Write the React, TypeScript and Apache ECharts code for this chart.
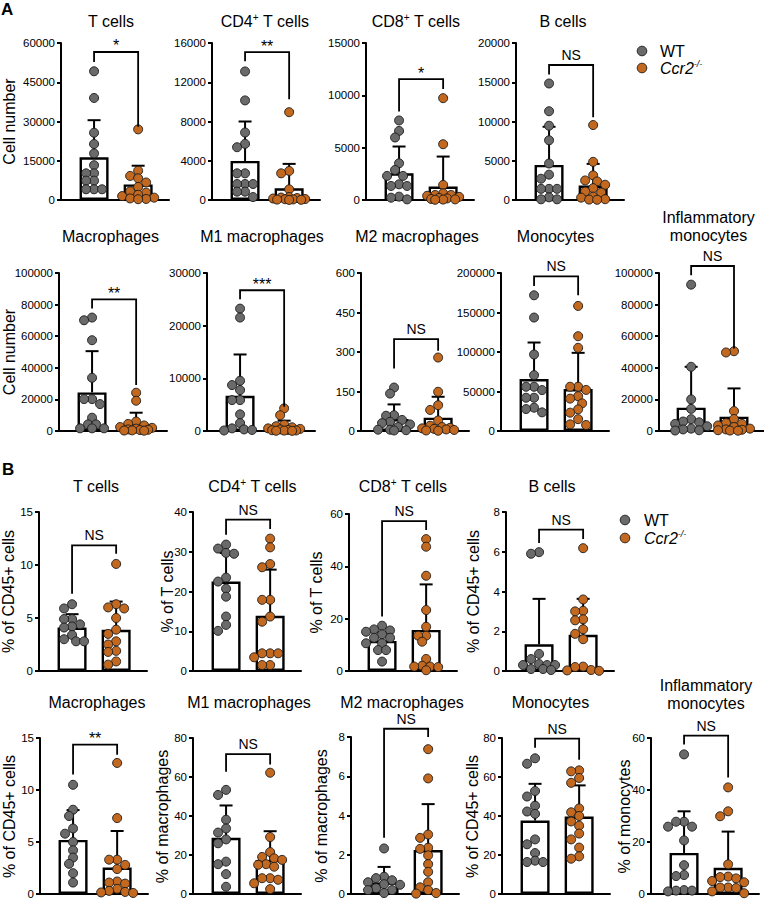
import React, { useEffect, useRef } from "react";
import * as echarts from "echarts";

const FONT = "'Liberation Sans', Arial, Helvetica, sans-serif";
const GROUPS = ["WT", "Ccr2-/-"];
const WT_COLOR = "#6a6a6a";
const KO_COLOR = "#c3681f";

// ---------- A: cell numbers ----------
const A_T_WT = [49200, 39000, 25700, 21400, 17800, 13300, 10200, 10200, 7400, 7400, 4100, 4100, 4100];
const A_T_KO = [27000, 11200, 9200, 8300, 6700, 5000, 3300, 2800, 2000, 1500, 900, 600, 400, 300];
const A_T_MEAN = [16300, 5970];
const A_T_SDTOP = [30500, 13100];
const A_T_SIG: [string, number, number, number] = ["*", 52750, 27970, 56570];
const A_T_AXIS = [60000, 15000];

const A_CD4_WT = [13100, 10150, 6880, 5720, 5380, 2720, 2720, 1630, 1630, 1630, 850, 850, 300];
const A_CD4_KO = [8950, 2960, 2720, 1090, 300, 250, 200, 150, 100, 80, 60, 40, 20, 10];
const A_CD4_MEAN = [3980, 1190];
const A_CD4_SDTOP = [8000, 3680];
const A_CD4_SIG: [string, number, number, number] = ["**", 14130, 10280, 15080];
const A_CD4_AXIS = [16000, 4000];

const A_CD8_WT = [7600, 6600, 5970, 3510, 2870, 2300, 2300, 1500, 1340, 1340, 320, 220, 60];
const A_CD8_KO = [9730, 5330, 1440, 640, 480, 480, 400, 300, 200, 150, 100, 60, 40, 20];
const A_CD8_MEAN = [2550, 1280];
const A_CD8_SDTOP = [5110, 4150];
const A_CD8_SIG: [string, number, number, number] = ["*", 8460, 10600, 11550];
const A_CD8_AXIS = [15000, 5000];

const A_B_WT = [14840, 11310, 9460, 7610, 4650, 3230, 2710, 1420, 1420, 1420, 340, 90, 90];
const A_B_KO = [9550, 4860, 3140, 2490, 2370, 1940, 1510, 1080, 950, 430, 300, 100, 50, 30];
const A_B_MEAN = [4470, 1850];
const A_B_SDTOP = [9330, 4600];
const A_B_SIG: [string, number, number, number] = ["NS", 16000, 10540, 17200];
const A_B_AXIS = [20000, 5000];

const A_MAC_WT = [71790, 70100, 57470, 33680, 20210, 20210, 17050, 8420, 4210, 4210, 1680, 1680, 1680];
const A_MAC_KO = [24210, 19160, 6000, 4500, 3500, 2500, 2000, 1500, 1000, 800, 600, 400, 300, 200];
const A_MAC_MEAN = [24420, 4210];
const A_MAC_SDTOP = [50530, 11580];
const A_MAC_SIG: [string, number, number, number] = ["**", 77470, 29050, 83370];
const A_MAC_AXIS = [100000, 20000];

const A_M1_WT = [23240, 21540, 9540, 8720, 7770, 5870, 5870, 3160, 1500, 500, 300, 200, 100];
const A_M1_KO = [4300, 3000, 1200, 900, 700, 500, 400, 300, 200, 150, 100, 80, 50, 30];
const A_M1_MEAN = [6690, 695];
const A_M1_SDTOP = [14530, 1960];
const A_M1_SIG: [string, number, number, number] = ["***", 25010, 4610, 26720];
const A_M1_AXIS = [30000, 10000];

const A_M2_WT = [165, 142, 60, 58, 42, 35, 30, 25, 15, 5, 5, 3, 2];
const A_M2_KO = [279, 149, 98, 80, 40, 20, 15, 12, 10, 8, 6, 4, 2, 1];
const A_M2_MEAN = [45.5, 50.5];
const A_M2_SDTOP = [101, 130];
const A_M2_SIG: [string, number, number, number] = ["NS", 237.5, 304.4, 348.6];
const A_M2_AXIS = [600, 150];

const A_MONO_WT = [171800, 143600, 96840, 70700, 56000, 56000, 51800, 42100, 42100, 29500, 27800, 23600];
const A_MONO_KO = [158300, 120000, 105300, 56000, 56000, 52000, 44000, 41000, 35000, 27400, 23200, 15000, 8400, 7600];
const A_MONO_MEAN = [65680, 53050];
const A_MONO_SDTOP = [112000, 98950];
const A_MONO_SIG: [string, number, number, number] = ["NS", 183600, 171800, 195800];
const A_MONO_AXIS = [200000, 50000];

const A_INFL_WT = [92630, 40630, 20000, 14000, 7500, 6000, 5500, 4500, 3000, 1500, 1000, 500, 300];
const A_INFL_KO = [50500, 49700, 12600, 7600, 5000, 4500, 3500, 2500, 1500, 1000, 800, 500, 300, 200];
const A_INFL_MEAN = [14740, 9050];
const A_INFL_SDTOP = [40630, 26950];
const A_INFL_SIG: [string, number, number, number] = ["NS", 98530, 52210, 104420];
const A_INFL_AXIS = [100000, 20000];

// ---------- B: percentages ----------
const B_T_WT = [6.3, 5.9, 4.9, 4.9, 4.4, 4.2, 4.1, 3.4, 3.0, 2.8, 2.8];
const B_T_KO = [10.1, 6.3, 6.0, 5.9, 5.0, 3.9, 3.5, 2.8, 2.5, 1.9, 1.8, 0.9, 0.6];
const B_T_MEAN = [4.1, 3.88];
const B_T_SDTOP = [5.36, 6.55];
const B_T_SIG: [string, number, number, number] = ["NS", 7.28, 11.06, 11.85];
const B_T_AXIS = [15, 5];

const B_CD4_WT = [31.8, 30.8, 29.7, 29.5, 23.5, 22.5, 20.7, 18.7, 13.7, 11.6, 10.1];
const B_CD4_KO = [33.3, 31.1, 26.9, 26.1, 17.9, 17.9, 13.7, 12.4, 4.45, 4.45, 4.45, 3.45, 1.5, 1.5];
const B_CD4_MEAN = [22.5, 13.9];
const B_CD4_SDTOP = [29.7, 25.5];
const B_CD4_SIG: [string, number, number, number] = ["NS", 34.3, 35.7, 38.1];
const B_CD4_AXIS = [40, 10];

const B_CD8_WT = [17.3, 15.9, 15.5, 15.0, 14.0, 12.7, 12.7, 10.6, 10.6, 8.0, 8.0, 3.6];
const B_CD8_KO = [50.4, 47.5, 36.4, 23.3, 16.9, 13.5, 13.5, 11.2, 4.6, 2.0, 1.7, 1.7, 1.5, 0.3];
const B_CD8_MEAN = [11.5, 15.7];
const B_CD8_SDTOP = [14.8, 33.1];
const B_CD8_SIG: [string, number, number, number] = ["NS", 20.8, 53.9, 57.3];
const B_CD8_AXIS = [60, 20];

const B_B_WT = [5.98, 5.9, 0.86, 0.6, 0.35, 0.3, 0.3, 0.3, 0.1, 0.1, 0.05];
const B_B_KO = [6.18, 3.6, 3.03, 3.0, 2.6, 2.55, 2.1, 1.87, 1.6, 0.22, 0.2, 0.05, 0.03, 0.01];
const B_B_MEAN = [1.34, 1.82];
const B_B_SDTOP = [3.63, 3.63];
const B_B_SIG: [string, number, number, number] = ["NS", 6.44, 6.64, 7.11];
const B_B_AXIS = [8, 2];

const B_MAC_WT = [10.5, 8.1, 7.5, 6.3, 5.8, 5.0, 4.2, 3.5, 2.9, 2.0, 1.1];
const B_MAC_KO = [12.6, 7.3, 3.3, 3.3, 2.8, 2.4, 1.2, 1.1, 1.0, 0.5, 0.3, 0.2, 0.15, 0.1];
const B_MAC_MEAN = [5.2, 2.55];
const B_MAC_SDTOP = [8.07, 6.06];
const B_MAC_SIG: [string, number, number, number] = ["**", 11.49, 13.4, 14.36];
const B_MAC_AXIS = [15, 5];

const B_M1_WT = [53.4, 50.8, 38.1, 33.6, 31.5, 28, 26, 16.6, 15.3, 10.2, 3.7];
const B_M1_KO = [62.2, 29.2, 21.5, 19.0, 18.3, 17.5, 15.3, 15.0, 14.0, 8.1, 8.1, 7.3, 5.5, 2.5];
const B_M1_MEAN = [28.8, 17.5];
const B_M1_SDTOP = [45.4, 32.2];
const B_M1_SIG: [string, number, number, number] = ["NS", 62.7, 66.4, 71.7];
const B_M1_AXIS = [80, 20];

const B_M2_WT = [2.32, 0.88, 0.81, 0.7, 0.6, 0.5, 0.47, 0.3, 0.2, 0.2, 0.05];
const B_M2_KO = [7.38, 5.89, 3.03, 2.86, 2.36, 2.3, 1.97, 1.52, 1.13, 0.6, 0.34, 0.2, 0.05, 0.02];
const B_M2_MEAN = [0.59, 2.24];
const B_M2_SDTOP = [1.38, 4.58];
const B_M2_SIG: [string, number, number, number] = ["NS", 2.86, 8.0, 8.42];
const B_M2_AXIS = [8, 2];

const B_MONO_WT = [69.6, 66.8, 52.8, 50, 45.3, 42.3, 41.1, 28, 25.5, 21, 17.1, 16.4, 16.4];
const B_MONO_KO = [63.4, 62.9, 59.5, 57, 43.9, 41.9, 40, 37.2, 35, 31, 28, 23.8, 19.3, 18.1];
const B_MONO_MEAN = [37.7, 39.7];
const B_MONO_SDTOP = [56.5, 55.7];
const B_MONO_SIG: [string, number, number, number] = ["NS", 75, 68.8, 79.7];
const B_MONO_AXIS = [80, 20];

const B_INFL_WT = [53.7, 27.8, 27.8, 25.9, 25.9, 20.6, 11.1, 7.3, 6.9, 1.5, 1.3, 1.3, 1.0];
const B_INFL_KO = [41, 31.8, 29.9, 11.4, 6.7, 6.5, 6.0, 5.0, 4.5, 2.5, 2.5, 2.3, 1.0, 0.3];
const B_INFL_MEAN = [15.8, 10.1];
const B_INFL_SDTOP = [31.8, 24.0];
const B_INFL_SIG: [string, number, number, number] = ["NS", 57.5, 44.8, 60.9];
const B_INFL_AXIS = [60, 20];

type Panel = {
  title: string;
  yName?: string;
  wt: number[];
  ko: number[];
  mean: number[];
  top: number[];
  sig: [string, number, number, number];
  axis: number[];
};

const PANELS: Panel[] = [
  { title: "T cells", yName: "Cell number", wt: A_T_WT, ko: A_T_KO, mean: A_T_MEAN, top: A_T_SDTOP, sig: A_T_SIG, axis: A_T_AXIS },
  { title: "CD4⁺ T cells", wt: A_CD4_WT, ko: A_CD4_KO, mean: A_CD4_MEAN, top: A_CD4_SDTOP, sig: A_CD4_SIG, axis: A_CD4_AXIS },
  { title: "CD8⁺ T cells", wt: A_CD8_WT, ko: A_CD8_KO, mean: A_CD8_MEAN, top: A_CD8_SDTOP, sig: A_CD8_SIG, axis: A_CD8_AXIS },
  { title: "B cells", wt: A_B_WT, ko: A_B_KO, mean: A_B_MEAN, top: A_B_SDTOP, sig: A_B_SIG, axis: A_B_AXIS },
  { title: "Macrophages", yName: "Cell number", wt: A_MAC_WT, ko: A_MAC_KO, mean: A_MAC_MEAN, top: A_MAC_SDTOP, sig: A_MAC_SIG, axis: A_MAC_AXIS },
  { title: "M1 macrophages", wt: A_M1_WT, ko: A_M1_KO, mean: A_M1_MEAN, top: A_M1_SDTOP, sig: A_M1_SIG, axis: A_M1_AXIS },
  { title: "M2 macrophages", wt: A_M2_WT, ko: A_M2_KO, mean: A_M2_MEAN, top: A_M2_SDTOP, sig: A_M2_SIG, axis: A_M2_AXIS },
  { title: "Monocytes", wt: A_MONO_WT, ko: A_MONO_KO, mean: A_MONO_MEAN, top: A_MONO_SDTOP, sig: A_MONO_SIG, axis: A_MONO_AXIS },
  { title: "Inflammatory\nmonocytes", wt: A_INFL_WT, ko: A_INFL_KO, mean: A_INFL_MEAN, top: A_INFL_SDTOP, sig: A_INFL_SIG, axis: A_INFL_AXIS },
  { title: "T cells", yName: "% of CD45+ cells", wt: B_T_WT, ko: B_T_KO, mean: B_T_MEAN, top: B_T_SDTOP, sig: B_T_SIG, axis: B_T_AXIS },
  { title: "CD4⁺ T cells", yName: "% of T cells", wt: B_CD4_WT, ko: B_CD4_KO, mean: B_CD4_MEAN, top: B_CD4_SDTOP, sig: B_CD4_SIG, axis: B_CD4_AXIS },
  { title: "CD8⁺ T cells", yName: "% of T cells", wt: B_CD8_WT, ko: B_CD8_KO, mean: B_CD8_MEAN, top: B_CD8_SDTOP, sig: B_CD8_SIG, axis: B_CD8_AXIS },
  { title: "B cells", yName: "% of CD45+ cells", wt: B_B_WT, ko: B_B_KO, mean: B_B_MEAN, top: B_B_SDTOP, sig: B_B_SIG, axis: B_B_AXIS },
  { title: "Macrophages", yName: "% of CD45+ cells", wt: B_MAC_WT, ko: B_MAC_KO, mean: B_MAC_MEAN, top: B_MAC_SDTOP, sig: B_MAC_SIG, axis: B_MAC_AXIS },
  { title: "M1 macrophages", yName: "% of macrophages", wt: B_M1_WT, ko: B_M1_KO, mean: B_M1_MEAN, top: B_M1_SDTOP, sig: B_M1_SIG, axis: B_M1_AXIS },
  { title: "M2 macrophages", yName: "% of macrophages", wt: B_M2_WT, ko: B_M2_KO, mean: B_M2_MEAN, top: B_M2_SDTOP, sig: B_M2_SIG, axis: B_M2_AXIS },
  { title: "Monocytes", yName: "% of CD45+ cells", wt: B_MONO_WT, ko: B_MONO_KO, mean: B_MONO_MEAN, top: B_MONO_SDTOP, sig: B_MONO_SIG, axis: B_MONO_AXIS },
  { title: "Inflammatory\nmonocytes", yName: "% of monocytes", wt: B_INFL_WT, ko: B_INFL_KO, mean: B_INFL_MEAN, top: B_INFL_SDTOP, sig: B_INFL_SIG, axis: B_INFL_AXIS },
];

// layout: grid left/top/height, title centre, y-name centre x
const LAYOUT = [
  { left: 61, top: 43, h: 157, tx: 111, ty: 21, nx: 9 },
  { left: 212, top: 43, h: 157, tx: 265, ty: 21, nx: 0 },
  { left: 366, top: 43, h: 157, tx: 416, ty: 21, nx: 0 },
  { left: 516, top: 43, h: 157, tx: 563, ty: 21, nx: 0 },
  { left: 59, top: 273, h: 158, tx: 110.5, ty: 236, nx: 9 },
  { left: 207, top: 273, h: 158, tx: 262, ty: 236, nx: 0 },
  { left: 361, top: 273, h: 158, tx: 417, ty: 236, nx: 0 },
  { left: 501, top: 273, h: 158, tx: 555.5, ty: 236, nx: 0 },
  { left: 659, top: 273, h: 158, tx: 708.5, ty: 226, nx: 0 },
  { left: 39, top: 512, h: 159, tx: 96, ty: 486, nx: 8 },
  { left: 193, top: 512, h: 159, tx: 252.5, ty: 486, nx: 167 },
  { left: 349, top: 514, h: 157, tx: 403, ty: 486, nx: 316 },
  { left: 506, top: 512, h: 159, tx: 552, ty: 486, nx: 473 },
  { left: 40, top: 738, h: 157, tx: 97, ty: 702, nx: 9 },
  { left: 193, top: 738, h: 157, tx: 249, ty: 702, nx: 162 },
  { left: 351, top: 737, h: 158, tx: 402, ty: 702, nx: 321 },
  { left: 502, top: 738, h: 157, tx: 550.5, ty: 702, nx: 472 },
  { left: 651, top: 738, h: 157, tx: 706, ty: 694, nx: 624 },
];

const X_MIN = -0.75;
const X_MAX = 1.7;
const GRID_W = 108;
const DOT = 9;

// horizontal de-overlap of dots (beeswarm), offsets in pixels
function swarm(values: number[], pxPerUnit: number): number[] {
  const order = values.map((_, i) => i).sort((a, b) => values[b] - values[a]);
  const cands = [0, -4, 4, -8, 8, -12, 12, -16, 16];
  const MIN_D = 7.2;
  const placed: { x: number; y: number }[] = [];
  const offs = new Array(values.length).fill(0);
  for (const i of order) {
    const y = values[i] * pxPerUnit;
    let best = 0;
    let bestD = -1;
    let found = false;
    for (const c of cands) {
      const d = placed.length ? Math.min(...placed.map((p) => Math.hypot(p.x - c, p.y - y))) : 99;
      if (d >= MIN_D) {
        best = c;
        found = true;
        break;
      }
      if (d > bestD) {
        bestD = d;
        best = c;
      }
    }
    if (!found && bestD < 0) best = 0;
    placed.push({ x: best, y });
    offs[i] = best;
  }
  return offs;
}

function richTitle(s: string) {
  return s
    .split("\n")
    .map((line) => line.split("⁺").map((p) => (p ? `{t|${p}}` : "")).join("{s|+}"))
    .join("\n");
}

function buildOption() {
  const grid: any[] = [];
  const xAxis: any[] = [];
  const yAxis: any[] = [];
  const series: any[] = [];
  const graphic: any[] = [];

  PANELS.forEach((p, i) => {
    const L = LAYOUT[i];
    grid.push({ left: L.left, top: L.top, width: GRID_W, height: L.h });
    xAxis.push({
      gridIndex: i,
      type: "value",
      min: X_MIN,
      max: X_MAX,
      axisLine: { show: true, onZero: false, lineStyle: { color: "#000", width: 2 } },
      axisTick: { show: false },
      axisLabel: { show: false },
      splitLine: { show: false },
    });
    yAxis.push({
      gridIndex: i,
      type: "value",
      min: 0,
      max: p.axis[0],
      interval: p.axis[1],
      axisLine: { show: true, onZero: false, lineStyle: { color: "#000", width: 2 } },
      axisTick: { show: true, length: 4, lineStyle: { color: "#000", width: 2 } },
      axisLabel: {
        color: "#000",
        fontSize: 11.5,
        fontFamily: FONT,
        margin: 6,
        formatter: (v: number) => String(v),
      },
      splitLine: { show: false },
    });

    series.push({
      type: "bar",
      xAxisIndex: i,
      yAxisIndex: i,
      data: p.mean.map((m, g) => [g, m]),
      barWidth: 29,
      itemStyle: { color: "#fff", borderColor: "#000", borderWidth: 2.4 },
      silent: true,
      z: 2,
    });

    series.push({
      type: "custom",
      xAxisIndex: i,
      yAxisIndex: i,
      data: p.mean.map((m, g) => [g, m, p.top[g]]),
      encode: { x: 0, y: [1, 2] },
      silent: true,
      z: 3,
      renderItem: (_params: any, api: any) => {
        const g = api.value(0);
        const a = api.coord([g, api.value(1)]);
        const b = api.coord([g, api.value(2)]);
        return {
          type: "group",
          children: [
            { type: "line", shape: { x1: a[0], y1: a[1], x2: b[0], y2: b[1] }, style: { stroke: "#000", lineWidth: 2 } },
            { type: "line", shape: { x1: b[0] - 6.5, y1: b[1], x2: b[0] + 6.5, y2: b[1] }, style: { stroke: "#000", lineWidth: 2 } },
          ],
        };
      },
    });

    const ppu = L.h / p.axis[0];
    [p.wt, p.ko].forEach((vals, g) => {
      const offs = swarm(vals, ppu);
      series.push({
        type: "scatter",
        name: GROUPS[g],
        xAxisIndex: i,
        yAxisIndex: i,
        symbol: "circle",
        symbolSize: DOT,
        silent: true,
        z: 4,
        itemStyle: { color: g === 0 ? WT_COLOR : KO_COLOR, borderColor: "#1a1a1a", borderWidth: 0.9, opacity: 1 },
        data: vals.map((v, k) => ({ value: [g, v], symbolOffset: [offs[k], 0] })),
      });
    });

    const sig = p.sig;
    series.push({
      type: "custom",
      xAxisIndex: i,
      yAxisIndex: i,
      data: [[0, sig[1], sig[2], sig[3]]],
      encode: { x: 0, y: [1, 2, 3] },
      silent: true,
      clip: false,
      z: 5,
      renderItem: (_params: any, api: any) => {
        const l = api.coord([0, api.value(1)]);
        const r = api.coord([1, api.value(2)]);
        const tl = api.coord([0, api.value(3)]);
        const tr = api.coord([1, api.value(3)]);
        const isStar = sig[0].indexOf("*") >= 0;
        return {
          type: "group",
          children: [
            {
              type: "polyline",
              shape: { points: [l, tl, tr, r] },
              style: { stroke: "#000", lineWidth: 1.8, fill: "none" },
            },
            {
              type: "text",
              x: (tl[0] + tr[0]) / 2,
              y: tl[1] - (isStar ? 6 : 10),
              style: {
                text: sig[0],
                fill: "#000",
                fontSize: isStar ? 16 : 14,
                fontFamily: FONT,
                align: "center",
                verticalAlign: "middle",
              },
            },
          ],
        };
      },
    });

    // title
    graphic.push({
      type: "text",
      x: L.tx,
      y: L.ty,
      silent: true,
      style: {
        text: richTitle(p.title),
        fill: "#000",
        fontSize: 16,
        fontFamily: FONT,
        align: "center",
        verticalAlign: "middle",
        lineHeight: 18,
        rich: {
          t: { fontSize: 16, fontFamily: FONT, fill: "#000", lineHeight: 18 },
          s: { fontSize: 10, fontFamily: FONT, fill: "#000", lineHeight: 10, verticalAlign: "top" },
        },
      },
    });

    if (p.yName) {
      graphic.push({
        type: "text",
        x: L.nx,
        y: L.top + L.h / 2,
        rotation: Math.PI / 2,
        silent: true,
        style: {
          text: p.yName,
          fill: "#000",
          fontSize: 16,
          fontFamily: FONT,
          align: "center",
          verticalAlign: "middle",
        },
      });
    }
  });

  // panel letters
  graphic.push({ type: "text", x: 1, y: 9, style: { text: "A", fill: "#000", fontSize: 17, fontWeight: "bold", fontFamily: FONT, verticalAlign: "middle" } });
  graphic.push({ type: "text", x: 2, y: 469, style: { text: "B", fill: "#000", fontSize: 17, fontWeight: "bold", fontFamily: FONT, verticalAlign: "middle" } });

  // legends
  const legendAt = (cx: number, y1: number, y2: number, tx: number) => {
    graphic.push({ type: "circle", shape: { cx, cy: y1, r: 4.8 }, style: { fill: WT_COLOR, stroke: "#1a1a1a", lineWidth: 0.9 } });
    graphic.push({ type: "circle", shape: { cx, cy: y2, r: 4.8 }, style: { fill: KO_COLOR, stroke: "#1a1a1a", lineWidth: 0.9 } });
    graphic.push({
      type: "text",
      x: tx,
      y: y1,
      style: { text: GROUPS[0], fill: "#000", fontSize: 16, fontFamily: FONT, verticalAlign: "middle" },
    });
    graphic.push({
      type: "text",
      x: tx,
      y: y2,
      style: {
        text: "{i|Ccr2}{s|-/-}",
        fill: "#000",
        fontSize: 16,
        fontFamily: FONT,
        verticalAlign: "middle",
        rich: {
          i: { fontSize: 16, fontStyle: "italic", fontFamily: FONT, fill: "#000", lineHeight: 18 },
          s: { fontSize: 9, fontStyle: "italic", fontFamily: FONT, fill: "#000", lineHeight: 11, verticalAlign: "top" },
        },
      },
    });
  };
  legendAt(642, 51, 68, 660);
  legendAt(625, 520, 538, 644);

  return {
    animation: false,
    backgroundColor: "#fff",
    grid,
    xAxis,
    yAxis,
    series,
    graphic,
  };
}

export default function App() {
  const ref = useRef<HTMLDivElement>(null);
  useEffect(() => {
    if (!ref.current) return;
    const chart = echarts.init(ref.current, null, { renderer: "svg" });
    chart.setOption(buildOption() as any);
    return () => chart.dispose();
  }, []);
  return (
    <div
      ref={ref}
      style={{ position: "absolute", left: 0, top: 0, width: 764, height: 900, background: "#fff" }}
    />
  );
}
